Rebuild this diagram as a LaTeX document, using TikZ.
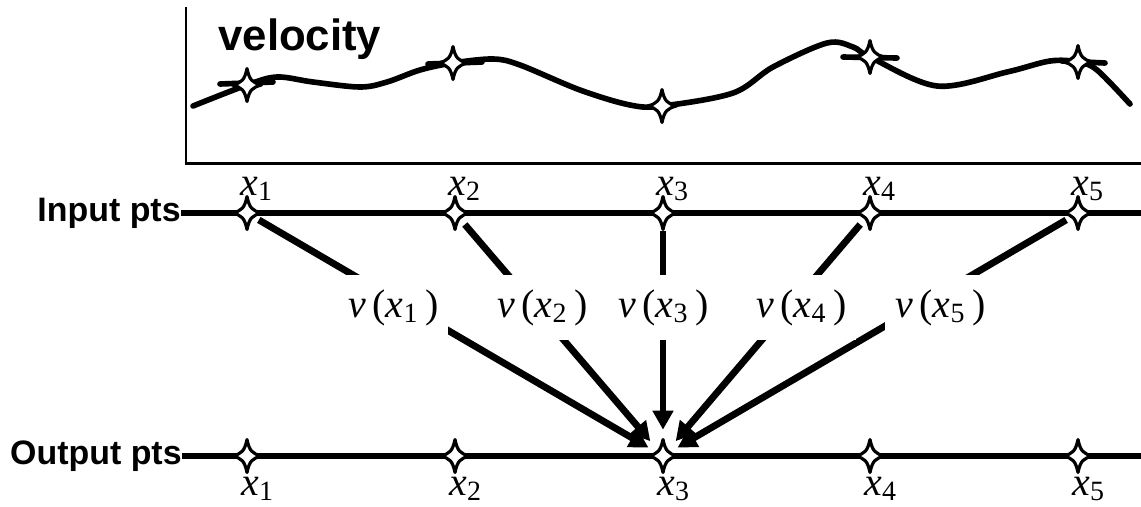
\documentclass[tikz,border=0pt]{standalone}
\usepackage{fontspec}
\setmainfont{Liberation Serif}
\newfontfamily\arialbf{Liberation Sans}
\usetikzlibrary{shapes.geometric,arrows.meta}
\tikzset{
  sparkle/.pic={
    \filldraw[fill=white, draw=black, line width=1.8pt, line join=round]
      (0,0.33) .. controls (0.05,0.10) and (0.10,0.05) .. (0.29,0)
      .. controls (0.10,-0.05) and (0.05,-0.10) .. (0,-0.33)
      .. controls (-0.05,-0.10) and (-0.10,-0.05) .. (-0.29,0)
      .. controls (-0.10,0.05) and (-0.05,0.10) .. (0,0.33) -- cycle;
  }
}

\begin{document}
\begin{tikzpicture}[
  ptnode/.style={ellipse, inner sep=0pt, minimum width=0.5cm, minimum height=0.7cm},
  tgtnode/.style={ellipse, inner sep=0pt, minimum width=0.6cm, minimum height=1.04cm},
  rowlab/.style={anchor=east, inner sep=0pt,
    font=\arialbf\bfseries\fontsize{19.3}{23}\selectfont},
  xlab/.style={anchor=base west, inner sep=0pt, font=\fontsize{22.7}{27}\selectfont},
  vlab/.style={anchor=base west, fill=white, inner xsep=0.2cm, inner ysep=0.28cm,
    font=\fontsize{22.7}{27}\selectfont},
  row/.style={line width=3.9pt},
  axis/.style={line width=1.7pt},
  curve/.style={line width=3.2pt, line cap=round},
  arr/.style={-{Triangle[length=0.38cm,width=0.40cm]}, line width=3.9pt}
]
\useasboundingbox (0,0) rectangle (22.82,-10.12);

% velocity plot
\draw[axis] (3.72,-0.14) -- (3.72,-3.26) -- (22.82,-3.26);
\node[anchor=base west, inner sep=0pt,
  font=\arialbf\bfseries\fontsize{24.9}{30}\selectfont] (vel) at (4.36,-1.0) {velocity};
\draw[curve] plot[smooth, tension=0.55] coordinates {
  (3.86,-2.12) (4.94,-1.70) (5.54,-1.54) (6.26,-1.64) (7.20,-1.74) (7.74,-1.64)
  (8.40,-1.40) (9.06,-1.26) (9.86,-1.18) (10.40,-1.30) (11.60,-1.80) (12.60,-2.10)
  (13.24,-2.12) (14.66,-1.86) (15.46,-1.34) (16.54,-0.86) (17.06,-0.94) (17.40,-1.14)
  (18.74,-1.72) (20.14,-1.44) (21.00,-1.22) (21.56,-1.24) (21.94,-1.40) (22.60,-2.08)};
\draw[curve] (4.40,-1.68) -- (5.46,-1.64);
\draw[curve] (8.56,-1.28) -- (9.64,-1.24);
\draw[curve] (16.86,-1.14) -- (17.94,-1.16);
\draw[curve] (21.24,-1.22) -- (22.10,-1.26);
\foreach \x/\y in {4.94/-1.70,9.06/-1.26,13.24/-2.12,17.40/-1.14,21.56/-1.24}
  \pic at (\x,\y) {sparkle};

% input and output rows
\node[rowlab] (inlab) at (3.62,-4.26) {Input pts};
\node[rowlab] (outlab) at (3.64,-9.12) {Output pts};
\coordinate (inend) at (22.82,-4.26);
\coordinate (outend) at (22.82,-9.12);
\draw[row] (inlab.east) -- (inend);
\draw[row] (outlab.east) -- (outend);

\foreach \i/\x in {1/4.94,2/9.10,3/13.26,4/17.40,5/21.56} {
  \node[ptnode] (in\i) at (\x,-4.26) {};
  \node[tgtnode] (out\i) at (\x,-9.12) {};
}
\foreach \i in {1,...,5}
  \draw[arr] (in\i) -- (out3);
\foreach \i in {1,...,5} {
  \pic at (in\i) {sparkle};
  \pic at (out\i) {sparkle};
}

% velocity samples
\node[vlab] (v1) at (6.76,-6.34) {\textit{v}\,(\textit{x}\textsubscript{1}\,)};
\node[vlab] (v2) at (9.74,-6.34) {\textit{v}\,(\textit{x}\textsubscript{2}\,)};
\node[vlab] (v3) at (12.16,-6.34) {\textit{v}\,(\textit{x}\textsubscript{3}\,)};
\node[vlab] (v4) at (14.92,-6.34) {\textit{v}\,(\textit{x}\textsubscript{4}\,)};
\node[vlab] (v5) at (17.70,-6.34) {\textit{v}\,(\textit{x}\textsubscript{5}\,)};

\foreach \i/\x in {1/4.94,2/9.10,3/13.26,4/17.40,5/21.56} {
  \node[xlab] (tx\i) at (\x-0.14,-3.90) {\textit{x}\textsubscript{\i}};
  \node[xlab] (bx\i) at (\x-0.12,-9.90) {\textit{x}\textsubscript{\i}};
}
\end{tikzpicture}
\end{document}
